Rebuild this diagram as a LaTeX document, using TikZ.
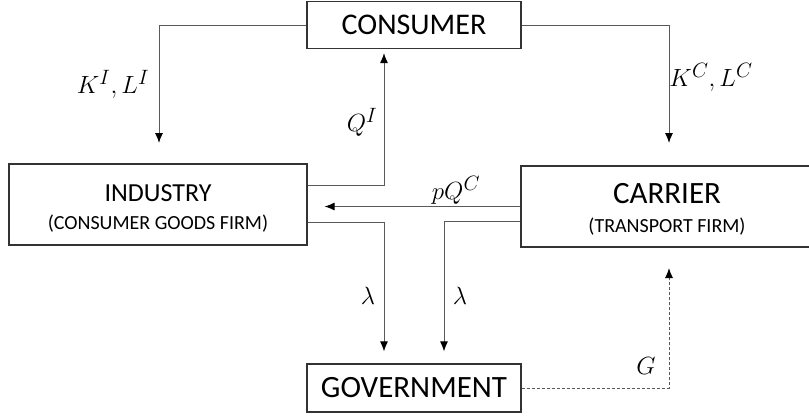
\documentclass[tikz,border=0pt]{standalone}
\usepackage{fontspec}
\setmainfont{Carlito}
\usetikzlibrary{arrows.meta}
\begin{document}
\begin{tikzpicture}[x=1pt,y=-1pt,
  box/.style={draw=black!80,line width=1.2pt,inner sep=0pt,fill=white},
  arr/.style={draw=black!65,line width=1pt,-{Latex[length=10pt,width=8pt,black]}},
  dasharr/.style={arr,dash pattern=on 3pt off 2pt},
  big/.style={font=\fontsize{30}{34}\selectfont},
  mid/.style={font=\fontsize{26}{30}\selectfont},
  small/.style={font=\fontsize{20}{24}\selectfont},
  lab/.style={font=\fontsize{28}{30}\selectfont,inner sep=0pt}]
\useasboundingbox (0,0) rectangle (809,416);
% boxes
\node[box,minimum width=214pt,minimum height=47pt,big] (consumer) at (414,25) {CONSUMER};
\node[box,minimum width=298pt,minimum height=81pt] (industry) at (158,204.5) {};
\node[mid,anchor=base,inner sep=0pt] (industryt) at (158,201.5) {INDUSTRY};
\node[small,anchor=base,inner sep=0pt] (industrys) at (158,229) {(CONSUMER GOODS FIRM)};
\node[box,minimum width=300pt,minimum height=81pt] (carrier) at (671,206.5) {};
\node[anchor=base,inner sep=0pt,font=\fontsize{31}{34}\selectfont] (carriert) at (667,203) {CARRIER};
\node[small,anchor=base,inner sep=0pt] (carriers) at (667,232) {(TRANSPORT FIRM)};
\node[box,minimum width=214pt,minimum height=48pt,font=\fontsize{31}{34}\selectfont] (government) at (414,388) {GOVERNMENT};
% free ends
\coordinate (kiend) at (159,143);
\coordinate (kcend) at (669,143);
\coordinate (gend) at (669,268);
% connectors
\draw[arr] (consumer.west) -| (kiend);
\draw[arr] (consumer.east) -| (kcend);
\draw[arr,shorten >=4pt] ([yshift=19.5pt]industry.east) -| ([xshift=-30pt]consumer.south);
\draw[arr,shorten >=17pt] (carrier.west) -- (industry.east |- carrier.west);
\draw[arr,shorten >=12pt] ([yshift=-17.5pt]industry.east) -| ([xshift=-30pt]government.north);
\draw[arr,shorten >=12pt] ([yshift=-14.5pt]carrier.west) -| ([xshift=30pt]government.north);
\draw[dasharr] (government.east) -| (gend);
% labels
\node[lab] (lki) at (113,84) {$K^I,L^I$};
\node[lab] (lkc) at (711,77) {$K^C,L^C$};
\node[lab] (lqi) at (362,122) {$Q^I$};
\node[lab] (lpq) at (456,190) {$pQ^C$};
\node[lab] (ll1) at (368,296) {$\lambda$};
\node[lab] (ll2) at (460,296) {$\lambda$};
\node[lab] (lg) at (646,366) {$G$};
\end{tikzpicture}
\end{document}
